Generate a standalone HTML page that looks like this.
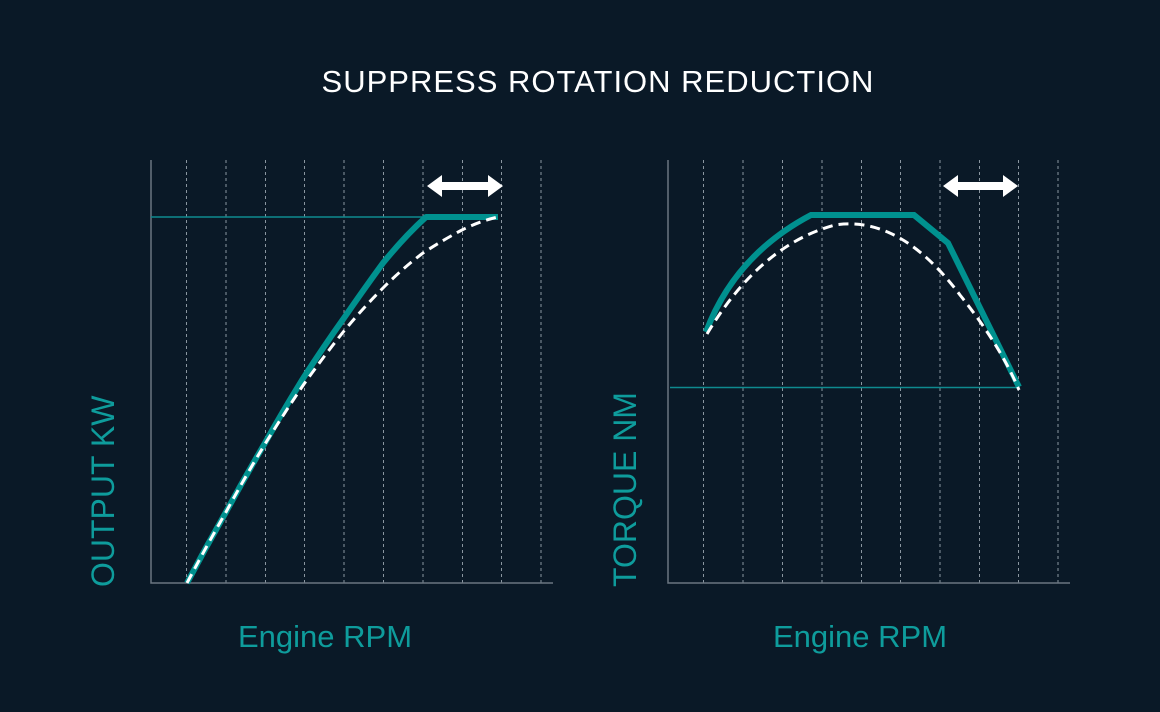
<!DOCTYPE html>
<html><head><style>
body{margin:0;background:#0a1927;}
svg{display:block}
</style></head><body>
<svg width="1160" height="712" viewBox="0 0 1160 712" xmlns="http://www.w3.org/2000/svg" font-family="Liberation Sans, sans-serif">
<rect width="1160" height="712" fill="#0a1927"/>
<text x="598" y="92" fill="#fff" font-size="31" text-anchor="middle" letter-spacing="1">SUPPRESS ROTATION REDUCTION</text>
<g stroke="#8a96a0" stroke-width="1" stroke-dasharray="3,3">
<path d="M186.5 160V583M226 160V583M265.5 160V583M304.5 160V583M344 160V583M383.5 160V583M423 160V583M462.5 160V583M501.5 160V583M541 160V583"/>
<path d="M703.5 160V583M743 160V583M782.5 160V583M822 160V583M861.5 160V583M900.5 160V583M940 160V583M979.5 160V583M1018.5 160V583M1058 160V583"/>
</g>
<g stroke="#6a7681" stroke-width="1.5" fill="none">
<path d="M151 160V583H553"/>
<path d="M668 160V583H1070"/>
</g>
<path d="M151 217H426" stroke="#0e8a8f" stroke-width="1.5"/>
<path d="M670 387.5H1018" stroke="#0e8a8f" stroke-width="1.5"/>
<path d="M187 583 Q206 547 226 512 Q245 477 265 443 Q284 409 304 377 Q324 346 344 318 Q364 289 383 263 Q405 236 426 217 H498" stroke="#00918f" stroke-width="6" fill="none" stroke-linejoin="round"/>
<path d="M187 583 Q206 547 226 512 Q245 477 265 444 Q285 412 304 384 Q324 356 344 331 Q363 308 383 288 Q403 268 423 253 Q443 240 462 230 Q480 221 498 217" stroke="#fff" stroke-width="3" fill="none" stroke-dasharray="10,6"/>
<path d="M706 332 Q735 255 811 215 H914 L948 243 L1019 387" stroke="#00918f" stroke-width="6" fill="none" stroke-linejoin="miter"/>
<path d="M707 334 Q760 245 835 225 Q900 215 960 295 Q1000 345 1019 390" stroke="#fff" stroke-width="3" fill="none" stroke-dasharray="10,6"/>
<g fill="#fff">
<path d="M427 186 L442 175 V182 H488 V175 L503 186 L488 197 V190 H442 V197 Z"/>
<path d="M943 186 L958 175 V182 H1003 V175 L1018 186 L1003 197 V190 H958 V197 Z"/>
</g>
<text transform="translate(114,587) rotate(-90)" fill="#0e9c9c" font-size="32">OUTPUT KW</text>
<text transform="translate(636,587) rotate(-90)" fill="#0e9c9c" font-size="32">TORQUE NM</text>
<text x="325" y="647" fill="#0e9c9c" font-size="31" text-anchor="middle">Engine RPM</text>
<text x="860" y="647" fill="#0e9c9c" font-size="31" text-anchor="middle">Engine RPM</text>
</svg>
</body></html>
